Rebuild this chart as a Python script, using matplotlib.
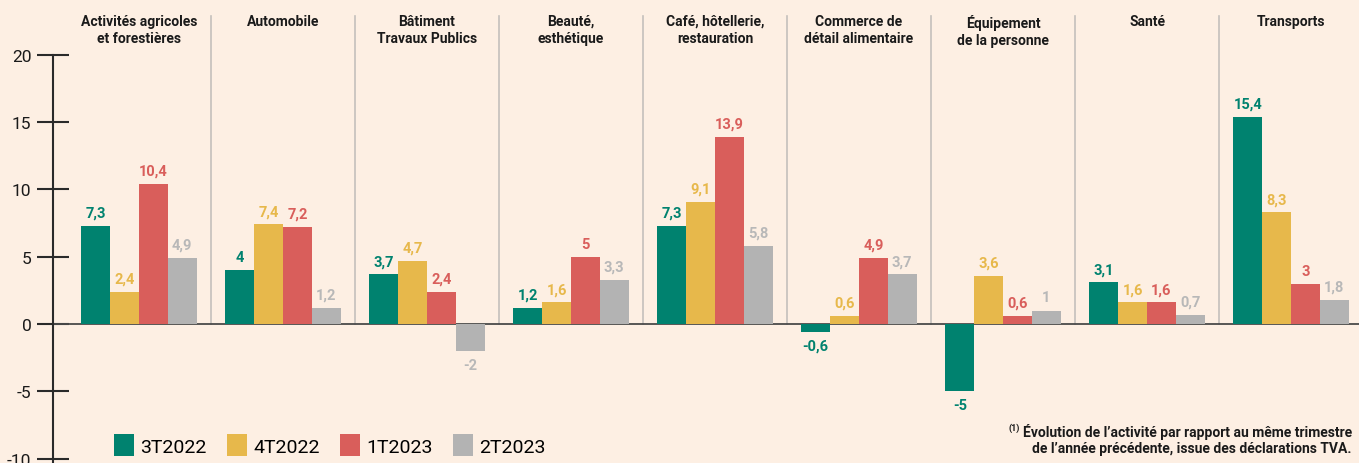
import numpy as np
import matplotlib
matplotlib.use('Agg')
import matplotlib.pyplot as plt
from matplotlib.patches import Patch

# ------- data --------------------------------------------------------------
categories = ['Activités agricoles\net forestières', 'Automobile',
              'Bâtiment\nTravaux Publics', 'Beauté,\nesthétique',
              'Café, hôtellerie,\nrestauration', 'Commerce de\ndétail alimentaire',
              'Équipement\nde la personne', 'Santé', 'Transports']
series = ['3T2022', '4T2022', '1T2023', '2T2023']
t3_2022 = [7.3, 4, 3.7, 1.2, 7.3, -0.6, -5, 3.1, 15.4]
t4_2022 = [2.4, 7.4, 4.7, 1.6, 9.1, 0.6, 3.6, 1.6, 8.3]
t1_2023 = [10.4, 7.2, 2.4, 5, 13.9, 4.9, 0.6, 1.6, 3]
t2_2023 = [4.9, 1.2, -2, 3.3, 5.8, 3.7, 1, 0.7, 1.8]
yticks = [-10, -5, 0, 5, 10, 15, 20]

# ------- style ---------------------------------------------------------------
bg = '#FDEFE3'
bar_colors = ['#00826F', '#E7B84B', '#D95E5B', '#B3B3B3']
label_colors = ['#00826F', '#E7B84B', '#D95E5B', '#B8B8B8']
plt.rcParams['font.family'] = ['Roboto', 'DejaVu Sans']

fig = plt.figure(figsize=(13.59, 4.64), dpi=100, facecolor=bg)
ax = fig.add_axes([0, 0, 1, 1], facecolor=bg)

# pixel -> data mapping: category centre 0 at x=139px, 144px per category,
# zero at y=325px, 13.46px per unit
ax.set_xlim((0 - 139) / 144, (1359 - 139) / 144)
ax.set_ylim((325 - 464) / 13.46, 325 / 13.46)

x = np.arange(len(categories))
width = 0.2
data = [t3_2022, t4_2022, t1_2023, t2_2023]
for i, vals in enumerate(data):
    pos = x + (i - 1.5) * width
    ax.bar(pos, vals, width, color=bar_colors[i], zorder=3)
    for px, v in zip(pos, vals):
        txt = ('%g' % v).replace('.', ',')
        off = 0.45 if v >= 0 else -0.5
        ax.text(px, v + off, txt, ha='center',
                va='bottom' if v >= 0 else 'top',
                fontsize=10.5, fontweight='bold', color=label_colors[i])

# category separators and titles
for b in x[:-1] + 0.5:
    ax.plot([b, b], [0, (325 - 17) / 13.46], color='#C4C0BC', lw=1.2, zorder=1)
for xi, c in zip(x, categories):
    ax.text(xi, (325 - 15) / 13.46, c, ha='center', va='top',
            fontsize=10, fontweight='bold', color='#1a1a1a', linespacing=1.25)

# zero line, starting at the y axis
ax.plot([(53 - 139) / 144, ax.get_xlim()[1]], [0, 0], color='#4a4a4a',
        lw=1.3, zorder=2)

# y axis
for s in ['top', 'right', 'bottom']:
    ax.spines[s].set_visible(False)
ax.spines['left'].set_position(('data', (53 - 139) / 144))
ax.spines['left'].set_bounds(ax.get_ylim()[0], 20)
ax.spines['left'].set_linewidth(1.5)
ax.spines['left'].set_color('#2a2a2a')
ax.spines['left'].set_zorder(4)
ax.set_yticks(yticks)
ax.set_yticklabels([str(t) for t in yticks])
ax.tick_params(axis='y', direction='inout', length=23, width=1.5,
               color='#2a2a2a', labelsize=12.5, pad=4, labelcolor='#1a1a1a')
ax.tick_params(axis='x', bottom=False, labelbottom=False)

# legend
handles = [Patch(facecolor=c, edgecolor='none') for c in bar_colors]
fig.legend(handles, series, loc='center left',
           bbox_to_anchor=(106 / 1359, 1 - 446 / 464), ncol=4, frameon=False,
           fontsize=14, handlelength=1.05, handleheight=1.3,
           handletextpad=0.3, columnspacing=1.05, borderaxespad=0)

# footnote
t1 = fig.text(1352 / 1359, 1 - 432 / 464,
              'Évolution de l’activité par rapport au même trimestre',
              ha='right', va='center', fontsize=10, fontweight='bold',
              color='#1a1a1a')
fig.text(1352 / 1359, 1 - 449 / 464,
         'de l’année précédente, issue des déclarations TVA.',
         ha='right', va='center', fontsize=10, fontweight='bold',
         color='#1a1a1a')
ax.annotate('(1)', xy=(0, 1), xycoords=t1, xytext=(-2, 0),
            textcoords='offset points', ha='right', va='top',
            fontsize=6.5, fontweight='bold', color='#1a1a1a')

fig.savefig('out.png', dpi=100, facecolor=bg)
